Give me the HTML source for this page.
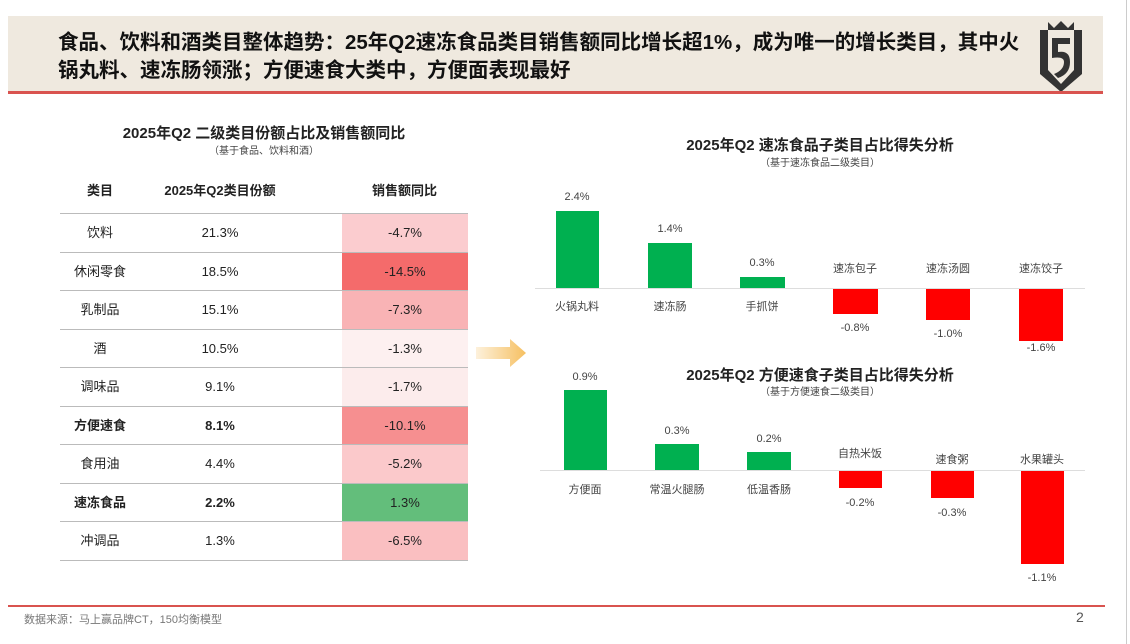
<!DOCTYPE html>
<html><head><meta charset="utf-8"><style>
body{margin:0;width:1130px;height:644px;background:#fff;position:relative;overflow:hidden;font-family:"Liberation Sans","Noto Sans CJK SC",sans-serif;color:#222}
.a{position:absolute}
.hdr{left:8px;top:16px;width:1095px;height:76px;background:#efe9df}
.ttl{left:58px;top:29px;font-size:20.5px;font-weight:bold;line-height:28px;color:#111;width:1000px;white-space:nowrap}
.c{text-align:center;white-space:nowrap}
.row{position:absolute;left:60px;width:408px;height:38px;border-top:1px solid #bbb;font-size:13px}
.row div{position:absolute;top:0;height:38px;line-height:38px;text-align:center}
.lbl{font-size:11px;color:#444;text-align:center;width:80px;position:absolute}
</style></head><body>
<div class="a hdr"></div>
<div class="a ttl">食品、饮料和酒类目整体趋势：25年Q2速冻食品类目销售额同比增长超1%，成为唯一的增长类目，其中火<br>锅丸料、速冻肠领涨；方便速食大类中，方便面表现最好</div>
<svg class="a" style="left:1036px;top:18px" width="50" height="76" viewBox="0 0 50 76">
<path d="M4 12 L12 12 L12 52 L25 66 L38 52 L38 12 L46 12 L46 56 L25 74 L4 56Z" fill="#333"/>
<path d="M12 4 L18 10 L25 3 L32 10 L38 4 L38 12 L12 12Z" fill="#333"/>
<path d="M16 20 L34 20 L34 26 L22 26 L22 34 Q34 32 34 44 Q34 56 22 60 L18 56 Q28 52 28 44 Q28 38 16 40Z" fill="#333"/>
</svg>
<div class="a" style="left:8px;top:91px;width:1095px;height:3px;background:#d9534f"></div>

<div class="a c" style="left:60px;width:408px;top:122px;font-size:15px;font-weight:bold">2025年Q2 二级类目份额占比及销售额同比</div>
<div class="a c" style="left:60px;width:408px;top:142px;font-size:10px;color:#444">（基于食品、饮料和酒）</div>
<div class="a c" style="left:60px;width:80px;top:180px;font-size:13px;font-weight:bold">类目</div>
<div class="a c" style="left:160px;width:120px;top:180px;font-size:13px;font-weight:bold">2025年Q2类目份额</div>
<div class="a c" style="left:342px;width:125px;top:180px;font-size:13px;font-weight:bold">销售额同比</div>

<div class="row" style="top:213px"><div style="left:0;width:80px">饮料</div><div style="left:100px;width:120px">21.3%</div><div style="left:282px;width:126px;background:#fbcccf">-4.7%</div></div>
<div class="row" style="top:252px"><div style="left:0;width:80px">休闲零食</div><div style="left:100px;width:120px">18.5%</div><div style="left:282px;width:126px;background:#f46b6b">-14.5%</div></div>
<div class="row" style="top:290px"><div style="left:0;width:80px">乳制品</div><div style="left:100px;width:120px">15.1%</div><div style="left:282px;width:126px;background:#f9b3b5">-7.3%</div></div>
<div class="row" style="top:329px"><div style="left:0;width:80px">酒</div><div style="left:100px;width:120px">10.5%</div><div style="left:282px;width:126px;background:#fdf0f0">-1.3%</div></div>
<div class="row" style="top:367px"><div style="left:0;width:80px">调味品</div><div style="left:100px;width:120px">9.1%</div><div style="left:282px;width:126px;background:#fcecec">-1.7%</div></div>
<div class="row" style="top:406px;font-weight:bold"><div style="left:0;width:80px">方便速食</div><div style="left:100px;width:120px">8.1%</div><div style="left:282px;width:126px;background:#f68f90;font-weight:normal">-10.1%</div></div>
<div class="row" style="top:444px"><div style="left:0;width:80px">食用油</div><div style="left:100px;width:120px">4.4%</div><div style="left:282px;width:126px;background:#fbc9cb">-5.2%</div></div>
<div class="row" style="top:483px;font-weight:bold"><div style="left:0;width:80px">速冻食品</div><div style="left:100px;width:120px">2.2%</div><div style="left:282px;width:126px;background:#63be7b;font-weight:normal">1.3%</div></div>
<div class="row" style="top:521px;border-bottom:1px solid #bbb"><div style="left:0;width:80px">冲调品</div><div style="left:100px;width:120px">1.3%</div><div style="left:282px;width:126px;background:#fabfc1">-6.5%</div></div>

<svg class="a" style="left:476px;top:338px" width="52" height="30"><defs><linearGradient id="g"><stop offset="0" stop-color="#fdf1dc"/><stop offset="1" stop-color="#f6c061"/></linearGradient></defs><path d="M0 9 L34 9 L34 1 L50 15 L34 29 L34 21 L0 21Z" fill="url(#g)"/></svg>

<div class="a c" style="left:560px;width:520px;top:134px;font-size:15px;font-weight:bold">2025年Q2 速冻食品子类目占比得失分析</div>
<div class="a c" style="left:560px;width:520px;top:154px;font-size:10px;color:#444">（基于速冻食品二级类目）</div>
<div class="a" style="left:535px;top:288px;width:550px;height:1px;background:#ddd"></div>
<div class="a" style="left:556px;top:211px;width:43px;height:77px;background:#00b050"></div>
<div class="a" style="left:648px;top:243px;width:44px;height:45px;background:#00b050"></div>
<div class="a" style="left:740px;top:277px;width:45px;height:11px;background:#00b050"></div>
<div class="a" style="left:833px;top:289px;width:45px;height:25px;background:#f00"></div>
<div class="a" style="left:926px;top:289px;width:44px;height:31px;background:#f00"></div>
<div class="a" style="left:1019px;top:289px;width:44px;height:52px;background:#f00"></div>
<div class="lbl" style="left:537px;top:191px">2.4%</div>
<div class="lbl" style="left:630px;top:223px">1.4%</div>
<div class="lbl" style="left:722px;top:257px">0.3%</div>
<div class="lbl" style="left:537px;top:298px">火锅丸料</div>
<div class="lbl" style="left:630px;top:298px">速冻肠</div>
<div class="lbl" style="left:722px;top:298px">手抓饼</div>
<div class="lbl" style="left:815px;top:260px">速冻包子</div>
<div class="lbl" style="left:908px;top:260px">速冻汤圆</div>
<div class="lbl" style="left:1001px;top:260px">速冻饺子</div>
<div class="lbl" style="left:815px;top:322px">-0.8%</div>
<div class="lbl" style="left:908px;top:328px">-1.0%</div>
<div class="lbl" style="left:1001px;top:342px">-1.6%</div>

<div class="a c" style="left:560px;width:520px;top:364px;font-size:15px;font-weight:bold">2025年Q2 方便速食子类目占比得失分析</div>
<div class="a c" style="left:560px;width:520px;top:383px;font-size:10px;color:#444">（基于方便速食二级类目）</div>
<div class="a" style="left:540px;top:470px;width:545px;height:1px;background:#ddd"></div>
<div class="a" style="left:564px;top:390px;width:43px;height:80px;background:#00b050"></div>
<div class="a" style="left:655px;top:444px;width:44px;height:26px;background:#00b050"></div>
<div class="a" style="left:747px;top:452px;width:44px;height:18px;background:#00b050"></div>
<div class="a" style="left:839px;top:471px;width:43px;height:17px;background:#f00"></div>
<div class="a" style="left:931px;top:471px;width:43px;height:27px;background:#f00"></div>
<div class="a" style="left:1021px;top:471px;width:43px;height:93px;background:#f00"></div>
<div class="lbl" style="left:545px;top:371px">0.9%</div>
<div class="lbl" style="left:637px;top:425px">0.3%</div>
<div class="lbl" style="left:729px;top:433px">0.2%</div>
<div class="lbl" style="left:545px;top:481px">方便面</div>
<div class="lbl" style="left:637px;top:481px">常温火腿肠</div>
<div class="lbl" style="left:729px;top:481px">低温香肠</div>
<div class="lbl" style="left:820px;top:445px">自热米饭</div>
<div class="lbl" style="left:912px;top:451px">速食粥</div>
<div class="lbl" style="left:1002px;top:451px">水果罐头</div>
<div class="lbl" style="left:820px;top:497px">-0.2%</div>
<div class="lbl" style="left:912px;top:507px">-0.3%</div>
<div class="lbl" style="left:1002px;top:572px">-1.1%</div>

<div class="a" style="left:8px;top:605px;width:1097px;height:2px;background:#d9534f"></div>
<div class="a" style="left:24px;top:611px;font-size:11px;color:#777">数据来源：马上赢品牌CT，150均衡模型</div>
<div class="a" style="left:1076px;top:609px;font-size:14px;color:#555">2</div>
<div class="a" style="left:1126px;top:0;width:1px;height:644px;background:#ccc"></div>
</body></html>
